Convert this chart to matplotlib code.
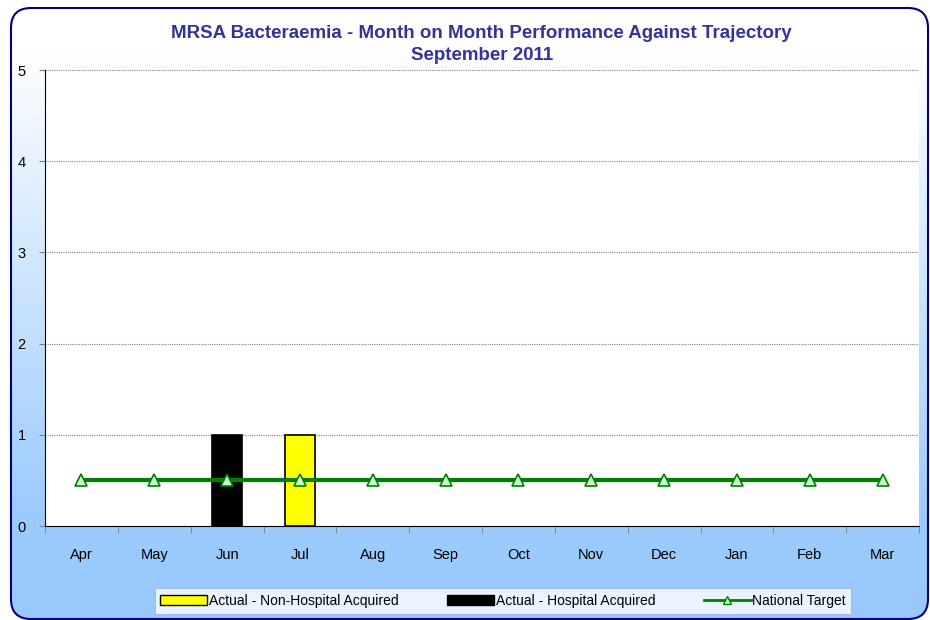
import matplotlib
matplotlib.use("Agg")
import matplotlib.pyplot as plt
import numpy as np
from matplotlib.patches import FancyBboxPatch, Patch
from matplotlib.lines import Line2D
from matplotlib.colors import LinearSegmentedColormap

months = ["Apr", "May", "Jun", "Jul", "Aug", "Sep", "Oct", "Nov", "Dec", "Jan", "Feb", "Mar"]
non_hospital = [0, 0, 0, 1, 0, 0, 0, 0, 0, 0, 0, 0]
hospital = [0, 0, 1, 0, 0, 0, 0, 0, 0, 0, 0, 0]
target = [0.5] * 12
yticks = [0, 1, 2, 3, 4, 5]

plt.rcParams['font.family'] = ['Liberation Sans', 'DejaVu Sans']

fig = plt.figure(figsize=(9.3, 6.2), dpi=100)

bg = fig.add_axes([0, 0, 1, 1], zorder=-10)
bg.set_xlim(0, 930)
bg.set_ylim(620, 0)
bg.axis('off')
grad = np.linspace(0, 1, 512).reshape(-1, 1)
cmap = LinearSegmentedColormap.from_list(
    'g', [(0.0, '#ffffff'), (0.06, '#ffffff'), (0.83, '#9ccbfd'), (1.0, '#99c9fc')])
box = FancyBboxPatch((11, 8), 917, 611, boxstyle="round,pad=0,rounding_size=20",
                     facecolor='none', edgecolor='#000080', linewidth=1.5, zorder=3)
bg.add_patch(box)
im = bg.imshow(grad, extent=[11, 928, 619, 8], cmap=cmap, aspect='auto', zorder=1)
im.set_clip_path(box)

ax = fig.add_axes([45/930, 1-526/620, 874/930, 456/620])
ax.set_facecolor('white')
x = np.arange(len(months))
w = 0.42
nh = np.array(non_hospital, dtype=float)
ho = np.array(hospital, dtype=float)
m1 = nh > 0
m2 = ho > 0
ax.bar(x[m1], nh[m1], w, color='#ffff00', edgecolor='black', linewidth=1.2, zorder=2)
ax.bar(x[m2], ho[m2], w, bottom=nh[m2], color='black', edgecolor='black', linewidth=1.2, zorder=2)
ax.plot(x, target, color='#008000', linewidth=3, marker='^', markersize=9,
        markerfacecolor='#ccffcc', markeredgecolor='#008000', markeredgewidth=1.2, zorder=3)

ax.set_xlim(-0.5, 11.5)
ax.set_ylim(0, 5)
ax.set_yticks(yticks)
ax.set_yticklabels([str(v) for v in yticks], fontsize=10.5)
ax.set_xticks(x)
ax.set_xticklabels(months, fontsize=10.5)
ax.tick_params(axis='x', length=0, pad=16)
ax.set_xticks(np.arange(-0.5, 12, 1), minor=True)
ax.tick_params(axis='x', which='minor', length=5, direction='out', color='#808080')
ax.tick_params(axis='y', length=4, direction='out', pad=10, color='#808080')
ax.grid(axis='y', color='#808080', linestyle=(0, (1, 1)), linewidth=0.8, zorder=0)
ax.set_axisbelow(True)
for s in ['top', 'right']:
    ax.spines[s].set_visible(False)

fig.text(0.518, 1-33/620, 'MRSA Bacteraemia - Month on Month Performance Against Trajectory',
         ha='center', va='center', fontsize=13.5, fontweight='bold', color='#333399')
fig.text(0.518, 1-55/620, 'September 2011', ha='center', va='center', fontsize=13.5,
         fontweight='bold', color='#333399')

handles = [Patch(facecolor='#ffff00', edgecolor='black', label='Actual - Non-Hospital Acquired'),
           Patch(facecolor='black', edgecolor='black', label='Actual - Hospital Acquired'),
           Line2D([0], [0], color='#008000', lw=2, marker='^', markersize=6,
                  markerfacecolor='#ccffcc', markeredgecolor='#008000', label='National Target')]
leg = fig.legend(handles=handles, loc='center', bbox_to_anchor=(503/930, 1-601/620), ncol=3,
                 fontsize=10, frameon=True, fancybox=False, edgecolor='#aaaaee',
                 handlelength=3.4, handleheight=0.8, columnspacing=3.5, handletextpad=0.1,
                 borderpad=0.4)
leg.get_frame().set_linewidth(0.8)

fig.savefig('out.png', dpi=100)
